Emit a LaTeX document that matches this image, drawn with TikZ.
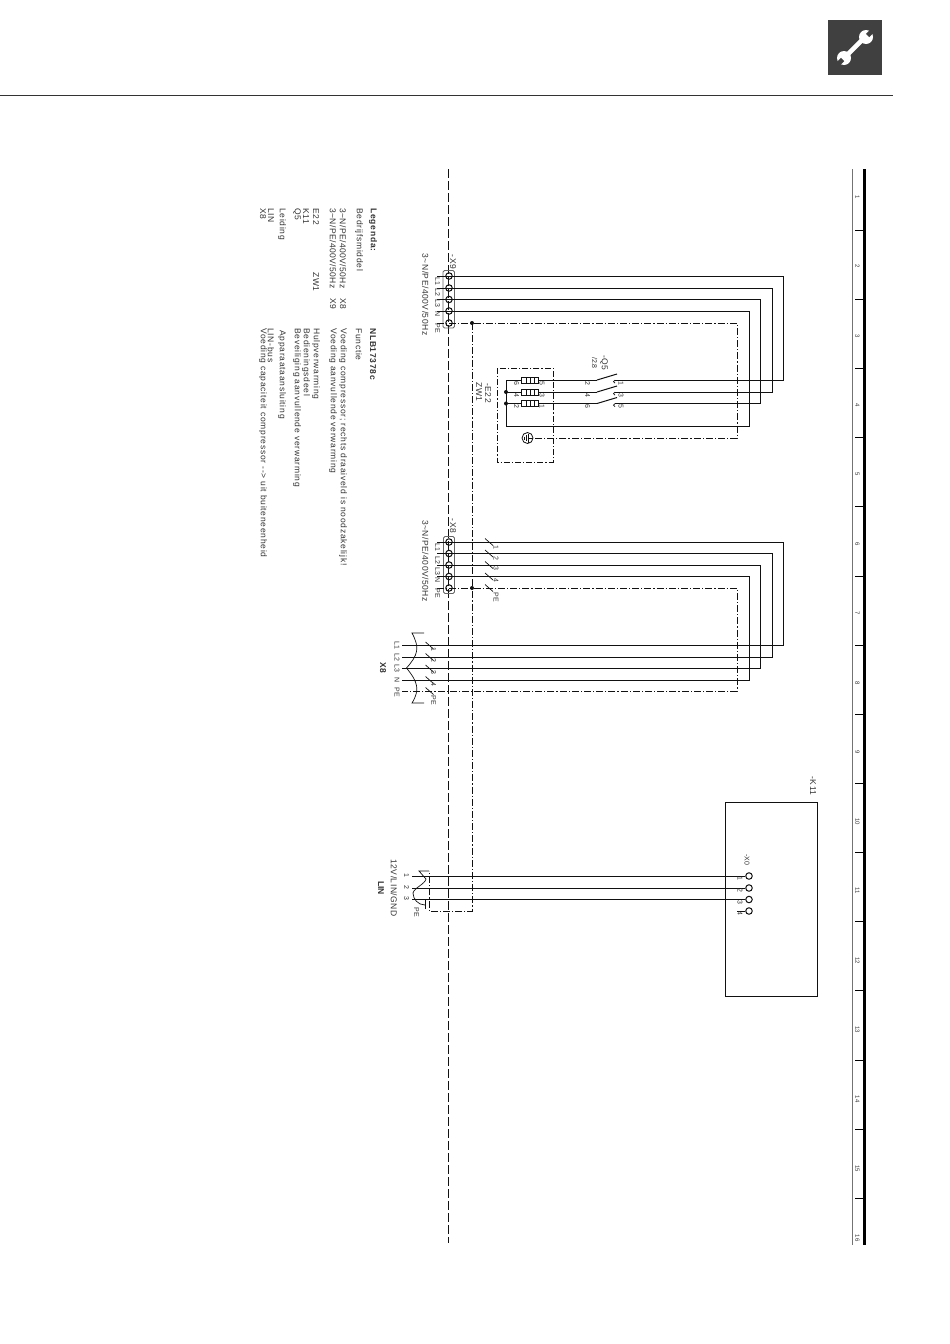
\documentclass[tikz,border=0pt]{standalone}
\usepackage{fontspec}
\setmainfont{Liberation Sans}
\usetikzlibrary{calc}
\definecolor{ink}{HTML}{111111}
\definecolor{txt}{HTML}{333333}
\newcommand{\tld}{\textasciitilde}
\tikzset{
 wire/.style={draw=ink,line width=1pt},
 pewire/.style={draw=ink,line width=.8pt,dash pattern=on 7pt off 2pt on 1.2pt off 2pt},
 term/.style={circle,draw=ink,line width=1pt,inner sep=0pt,minimum size=6.5pt},
 lbl/.style={rotate=-90,text=txt,font=\fontsize{7}{8}\selectfont,inner sep=0pt},
 mid/.style={rotate=-90,text=txt,font=\fontsize{8.5}{9}\selectfont\addfontfeature{LetterSpace=6},inner sep=0pt},
 leg/.style={rotate=-90,text=txt,anchor=west,font=\fontsize{8.5}{9}\selectfont\addfontfeature{LetterSpace=8.8},inner sep=0pt},
 legv/.style={leg,font=\fontsize{8.5}{9}\selectfont\addfontfeature{LetterSpace=5}},
 legb/.style={leg,font=\fontsize{8.5}{9}\selectfont\bfseries\addfontfeature{LetterSpace=9}},
 dotj/.style={circle,fill=ink,inner sep=0pt,minimum size=4pt},
 heater/.style={draw=ink,line width=.8pt,fill=white,minimum width=17pt,minimum height=6pt,inner sep=0pt},
}
\begin{document}
\begin{tikzpicture}[x=1pt,y=-1pt]
\useasboundingbox (0,0) rectangle (950,1344);
% header
\fill[fill=black!75] (828,20) rectangle (882,75);
\draw[line width=.8pt,draw=black!80] (0,95.5) -- (893,95.5);
\begin{scope}
\draw[white,line width=4.6pt] (846,56) -- (864,38);
\fill[white] (866,37) circle (7);
\fill[white] (844,58) circle (7);
\draw[black!75,line width=4.6pt] (867.5,35.5) -- (876,27);
\draw[black!75,line width=4.6pt] (842.5,59.5) -- (834,68);
\end{scope}
% ruler
\draw[draw=black!55,line width=1pt] (852.5,169) -- (852.5,1245);
\draw[draw=black,line width=3.4pt] (864.7,169) -- (864.7,1245);
\foreach \k in {0,...,14}{\draw[draw=black,line width=.7pt] (855,{230.3+69.13*\k}) -- (864,{230.3+69.13*\k});}
\foreach \k in {1,...,16}{\node[lbl,font=\fontsize{6}{7}\selectfont] (r\k) at (857.5,{197+69.4*(\k-1)}) {\k};}
% separator
\draw[draw=ink,line width=.9pt,dash pattern=on 9pt off 3pt] (448.5,169) -- (448.5,1243);
% X9 block
\draw[draw=black!60,line width=.8pt,rounded corners=1.5pt] (443,270.5) rectangle (454.5,328);
\coordinate (a1) at (437,276); \coordinate (a2) at (437,288); \coordinate (a3) at (437,299.5); \coordinate (a4) at (437,311); \coordinate (a5) at (437,323);
\foreach \n/\y in {1/276,2/288,3/299.5,4/311,5/323}{\node[term] (x9\n) at (449,\y) {};}
\coordinate (q1) at (615,380); \coordinate (q2) at (615,392); \coordinate (q3) at (615,403.5);
\coordinate (qb1) at (597,380); \coordinate (qb2) at (597,392); \coordinate (qb3) at (597,403.5);
\draw[wire] (a1) -- (783,276) |- (q1);
\draw[wire] (a2) -- (772,288) |- (q2);
\draw[wire] (a3) -- (760,299.5) |- (q3);
\draw[wire] (a4) -- (749,311) |- (506,426) -- (506,380);
\foreach \n/\y in {1/380,2/392,3/403.5}{
 \node[heater] (h\n) at (530,\y) {};
 \draw[draw=ink,line width=.7pt] (526,\y-3) -- (526,\y+3) (530,\y-3) -- (530,\y+3) (534,\y-3) -- (534,\y+3);
 \draw[wire] (506,\y) -- (h\n.west);
 \draw[wire] (h\n.east) -- (qb\n);
 \draw[wire] (qb\n) -- ($(qb\n)+(20,-6)$);
 \draw[draw=ink,line width=.7pt] (615,\y) arc[start angle=270,end angle=90,radius=1.6];
}
\node[circle,draw=ink,line width=.8pt,inner sep=0pt,minimum size=11pt] (earth) at (527.5,438) {};
\draw[draw=ink,line width=.7pt] (528.5,433.5) -- (528.5,442.5) (526.5,435) -- (526.5,441) (524.5,436.5) -- (524.5,439.5) (528.5,438) -- (533,438);
\draw[pewire] (a5) -- (737,323) |- (earth.east);
\draw[draw=ink,line width=.8pt,dash pattern=on 6pt off 2pt on 1.2pt off 2pt] (497,368) rectangle (553,462);
\node[dotj] (jq1) at (506,392) {};
\node[dotj] (jq2) at (506,403.5) {};
% X8 block
\draw[draw=black!60,line width=.8pt,rounded corners=1.5pt] (443.5,536.5) rectangle (454.5,593.5);
\foreach \n/\y in {1/542,2/553.5,3/565,4/576.5,5/588}{\node[term] (x8\n) at (449,\y) {};}
\coordinate (b1) at (402,645.5); \coordinate (b2) at (402,657); \coordinate (b3) at (402,668.5); \coordinate (b4) at (402,680); \coordinate (b5) at (402,691);
\draw[wire] (437,542) -- (783,542) |- (b1);
\draw[wire] (437,553.5) -- (772,553.5) |- (b2);
\draw[wire] (437,565) -- (760,565) |- (b3);
\draw[wire] (437,576.5) -- (749,576.5) |- (b4);
\draw[pewire] (437,588) -- (737,588) |- (b5);
\foreach \y in {542,553.5,565,576.5,588}{\draw[draw=ink,line width=.7pt] (485,\y-3.5) -- (493,\y+3.5);}
\foreach \y in {645.5,657,668.5,680,691}{\draw[draw=ink,line width=.7pt] (425.5,\y-3.5) -- (433.5,\y+3.5);}
\draw[draw=ink,line width=.7pt] (424,633) -- (412,633) .. controls (420,648) and (418,655) .. (406.5,668) .. controls (418,682) and (420,690) .. (412,703) -- (424,703);
% LIN & K11
\draw[draw=ink,line width=1pt] (725,802) rectangle (817,996);
\foreach \n/\y in {1/876,2/888,3/899.5,4/911}{\node[term] (k\n) at (749,\y) {};}
\draw[wire] (412,876) -- (k1.west);
\draw[wire] (412,888) -- (k2.west);
\draw[wire] (412,899.5) -- (k3.west);
\draw[wire] (737,911) -- (k4.west);
\draw[pewire] (472,323) -- (472,911) -- (429,911) -- (429,871);
\node[dotj] (j9) at (472,323) {};
\node[dotj] (j8) at (472,588) {};
\draw[draw=ink,line width=.7pt] (429,871) -- (419,871) -- (426,879) .. controls (425,884) and (414,888) .. (413,893) .. controls (413,899) and (418,905) .. (425,905);
\draw[draw=ink,line width=.7pt] (425,900) -- (425,909);
% labels
\node[mid] (lx9) at (453,262) {-X9};
\node[mid] (t9) at (425.5,294.5) {3\tld N/PE/400V/50Hz};
\foreach \t/\y in {L1/281,L2/292,L3/303,N/314,PE/328}{\node[lbl] at (437.5,\y) {\t};}
\node[mid] (lq5) at (604,363) {-Q5};
\node[lbl] (lq5b) at (594.5,363) {/2.8};
\node[mid] (le22) at (488,393) {-E22};
\node[mid] (lzw) at (479,392) {ZW1};
\foreach \t/\y in {1/383,3/395,5/406.5}{\node[lbl] at (621,\y) {\t};}
\foreach \t/\y in {2/383,4/395,6/406.5}{\node[lbl] at (587.5,\y) {\t};}
\foreach \t/\y in {5/383,3/395,1/406.5}{\node[lbl] at (542,\y) {\t};}
\foreach \t/\y in {6/383,4/395,2/406.5}{\node[lbl] at (516.5,\y) {\t};}
\node[mid] (lx8) at (453,526) {-X8};
\node[mid] (t8) at (425.5,561) {3\tld N/PE/400V/50Hz};
\foreach \t/\y in {L1/547,L2/560,L3/571,N/580,PE/593}{\node[lbl] at (437.5,\y) {\t};}
\foreach \t/\y in {1/547,2/558,3/568,4/580}{\node[lbl] at (496,\y) {\t};}
\node[lbl] at (496,597) {PE};
\foreach \t/\y in {1/649,2/660,3/672,4/684}{\node[lbl] at (433.5,\y) {\t};}
\node[lbl] at (433.5,700) {PE};
\foreach \t/\y in {L1/645.5,L2/657,L3/668.5,N/680,PE/692}{\node[lbl] at (397,\y) {\t};}
\node[rotate=-90,inner sep=0pt,text=txt,font=\fontsize{8.5}{9}\selectfont\bfseries] (lx) at (383,668) {X8};
\foreach \t/\y in {1/875,2/887,3/898}{\node[lbl] at (406.5,\y) {\t};}
\node[lbl] at (416.5,912) {PE};
\node[mid] (t12) at (394,888) {12V/LIN/GND};
\node[rotate=-90,inner sep=0pt,text=txt,font=\fontsize{8.5}{9}\selectfont\bfseries] (ll) at (381,888) {LIN};
\node[mid] (lk) at (813,786) {-K11};
\node[mid,font=\fontsize{7}{8}\selectfont] (lx0) at (747,860) {-X0};
\foreach \t/\y in {1/878,2/890,3/902,4/913}{\node[lbl] at (740,\y) {\t};}
% legend
\node[legb] at (373,208) {Legenda:};
\node[legb] at (373,328) {NLB17378c};
\node[leg] at (359,208) {Bedrijfsmiddel};
\node[leg] at (359,328) {Functie};
\node[legv] at (343,208) {3\tld N/PE/400V/50Hz};
\node[leg] at (343,298) {X8};
\node[leg] at (343,328) {Voeding compressor; rechts draaiveld is noodzakelijk!};
\node[legv] at (333,208) {3\tld N/PE/400V/50Hz};
\node[leg] at (333,298) {X9};
\node[leg] at (333,328) {Voeding aanvullende verwarming};
\node[leg] at (316,208) {E22};
\node[leg] at (316,272) {ZW1};
\node[leg] at (316,328) {Hulpverwarming};
\node[leg] at (306,208) {K11};
\node[leg] at (306,328) {Bedieningsdeel};
\node[leg] at (297,208) {Q5};
\node[leg] at (297,328) {Beveiliging aanvullende verwarming};
\node[leg] at (282,208) {Leiding};
\node[leg] at (282,330) {Apparaataansluiting};
\node[leg] at (271,208) {LIN};
\node[leg] at (271,328) {LIN-bus};
\node[leg] at (263,208) {X8};
\node[leg] at (263,328) {Voeding capaciteit compressor -{}-> uit buiteneenheid};
\end{tikzpicture}
\end{document}
